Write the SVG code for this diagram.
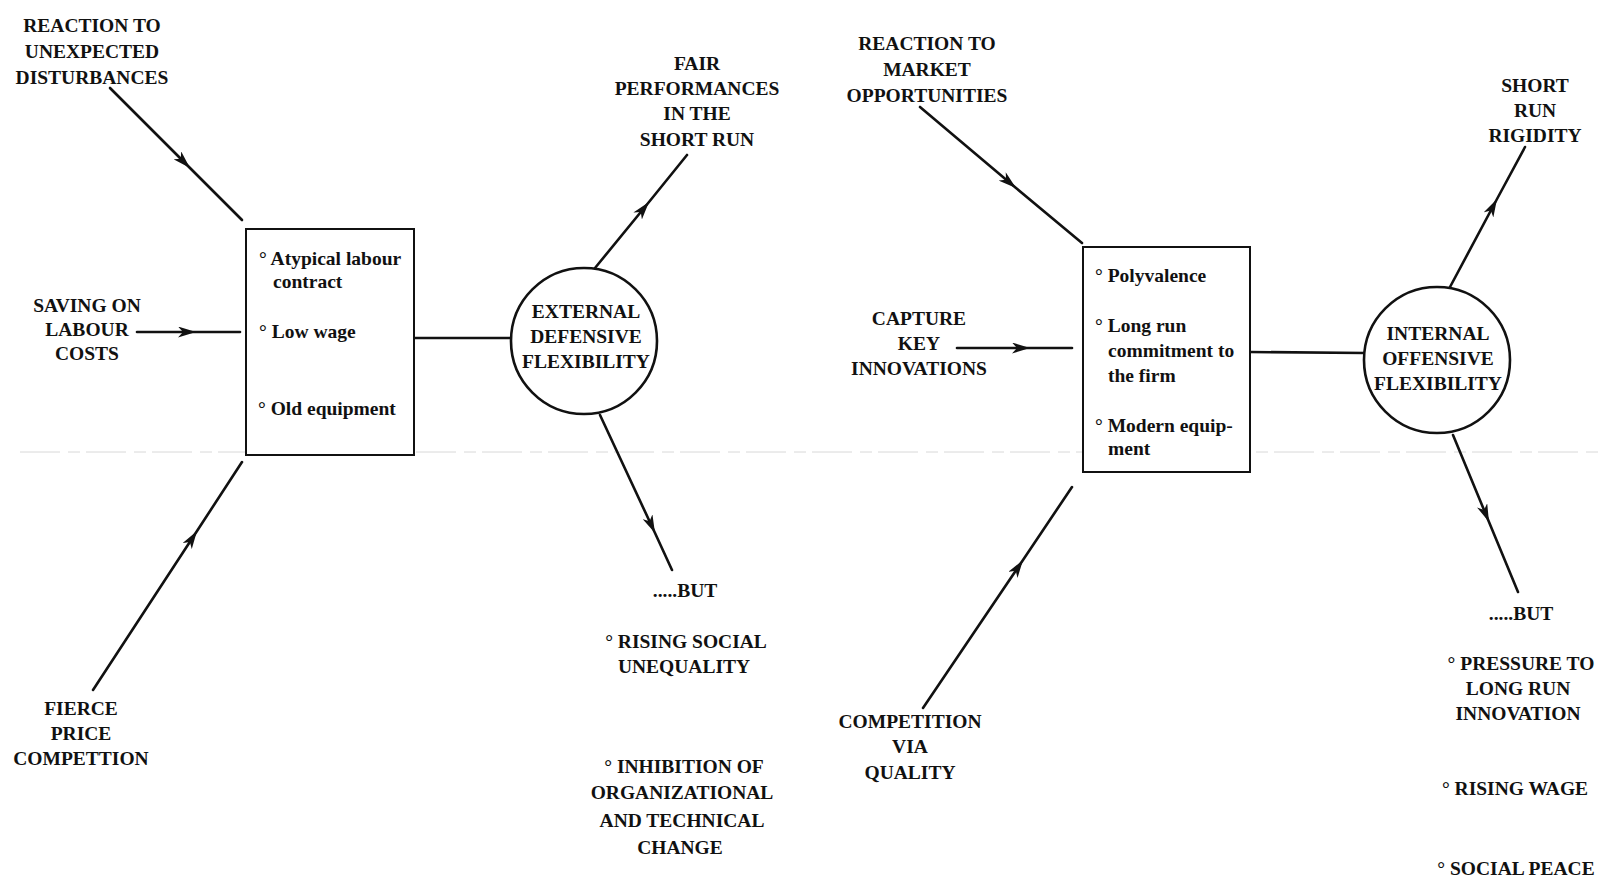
<svg xmlns="http://www.w3.org/2000/svg" width="1600" height="880" viewBox="0 0 1600 880">
<style>
  text { font-family: "Liberation Serif", "Times New Roman", serif; font-weight: bold; font-size: 19.5px; fill: #111; }
  .c { text-anchor: middle; }
  .box { fill: #fff; stroke: #111; stroke-width: 2; }
  .circ { fill: #fff; stroke: #111; stroke-width: 2.6; }
  .ln { fill: none; stroke: #111; stroke-width: 2.6; stroke-linecap: round; }
  .arr { fill: none; stroke: #111; stroke-width: 2.6; stroke-linecap: round; marker-mid: url(#ah); }
  .scan { stroke: #d8d8d8; stroke-width: 1; stroke-dasharray: 40 8 12 6; }
</style>
<defs>
  <marker id="ah" viewBox="0 0 18 11" refX="18" refY="5.5" markerWidth="18" markerHeight="11" markerUnits="userSpaceOnUse" orient="auto">
    <path d="M0,0 L18,5.5 L0,11 L5,5.5 z" fill="#111"/>
  </marker>
</defs>
<rect width="1600" height="880" fill="#fff"/>
<line class="scan" x1="20" y1="452" x2="1600" y2="452"/>

<g id="connectors">
  <path class="arr" d="M110,88 L190,168 L242,220"/>
  <path class="arr" d="M137,332 L196,332 L240,332"/>
  <path class="arr" d="M93,690 L197,531 L242,462"/>
  <path class="ln" d="M414,338 L512,338"/>
  <path class="arr" d="M595,268 L649,202 L687,155"/>
  <path class="arr" d="M600,415 L655,533 L672,570"/>
  <path class="arr" d="M920,107 L1016,188 L1082,243"/>
  <path class="arr" d="M957,348 L1030,348 L1072,348"/>
  <path class="arr" d="M923,708 L1023,560 L1072,487"/>
  <path class="ln" d="M1250,352 L1365,353"/>
  <path class="arr" d="M1450,287 L1497,199 L1525,147"/>
  <path class="arr" d="M1453,435 L1489,522 L1518,592"/>
</g>

<g id="label-unexpected">
  <text class="c" x="92" y="32">REACTION TO</text>
  <text class="c" x="92" y="58">UNEXPECTED</text>
  <text class="c" x="92" y="84">DISTURBANCES</text>
</g>
<g id="label-saving">
  <text class="c" x="87" y="312">SAVING ON</text>
  <text class="c" x="87" y="336">LABOUR</text>
  <text class="c" x="87" y="360">COSTS</text>
</g>
<g id="label-fierce">
  <text class="c" x="81" y="715">FIERCE</text>
  <text class="c" x="81" y="740">PRICE</text>
  <text class="c" x="81" y="765">COMPETTION</text>
</g>

<g id="box-external">
  <rect class="box" x="246" y="229" width="168" height="226"/>
  <text x="259" y="265">° Atypical labour</text>
  <text x="273" y="288">contract</text>
  <text x="259" y="338">° Low wage</text>
  <text x="258" y="415">° Old equipment</text>
</g>

<g id="circle-external">
  <circle class="circ" cx="584" cy="341" r="73"/>
  <text class="c" x="586" y="318">EXTERNAL</text>
  <text class="c" x="586" y="343">DEFENSIVE</text>
  <text class="c" x="586" y="368">FLEXIBILITY</text>
</g>

<g id="label-fair">
  <text class="c" x="697" y="70">FAIR</text>
  <text class="c" x="697" y="95">PERFORMANCES</text>
  <text class="c" x="697" y="120">IN THE</text>
  <text class="c" x="697" y="146">SHORT RUN</text>
</g>

<g id="label-but-external">
  <text class="c" x="685" y="597">.....BUT</text>
  <text class="c" x="686" y="648">° RISING SOCIAL</text>
  <text class="c" x="684" y="673">UNEQUALITY</text>
  <text class="c" x="684" y="773">° INHIBITION OF</text>
  <text class="c" x="682" y="799">ORGANIZATIONAL</text>
  <text class="c" x="682" y="827">AND TECHNICAL</text>
  <text class="c" x="680" y="854">CHANGE</text>
</g>

<g id="label-market">
  <text class="c" x="927" y="50">REACTION TO</text>
  <text class="c" x="927" y="76">MARKET</text>
  <text class="c" x="927" y="102">OPPORTUNITIES</text>
</g>
<g id="label-capture">
  <text class="c" x="919" y="325">CAPTURE</text>
  <text class="c" x="919" y="350">KEY</text>
  <text class="c" x="919" y="375">INNOVATIONS</text>
</g>
<g id="label-quality">
  <text class="c" x="910" y="728">COMPETITION</text>
  <text class="c" x="910" y="753">VIA</text>
  <text class="c" x="910" y="779">QUALITY</text>
</g>

<g id="box-internal">
  <rect class="box" x="1083" y="247" width="167" height="225"/>
  <text x="1095" y="282">° Polyvalence</text>
  <text x="1095" y="332">° Long run</text>
  <text x="1108" y="357">commitment to</text>
  <text x="1108" y="382">the firm</text>
  <text x="1095" y="432">° Modern equip-</text>
  <text x="1108" y="455">ment</text>
</g>

<g id="circle-internal">
  <circle class="circ" cx="1437" cy="360" r="73"/>
  <text class="c" x="1438" y="340">INTERNAL</text>
  <text class="c" x="1438" y="365">OFFENSIVE</text>
  <text class="c" x="1438" y="390">FLEXIBILITY</text>
</g>

<g id="label-rigidity">
  <text class="c" x="1535" y="92">SHORT</text>
  <text class="c" x="1535" y="117">RUN</text>
  <text class="c" x="1535" y="142">RIGIDITY</text>
</g>

<g id="label-but-internal">
  <text class="c" x="1521" y="620">.....BUT</text>
  <text class="c" x="1521" y="670">° PRESSURE TO</text>
  <text class="c" x="1518" y="695">LONG RUN</text>
  <text class="c" x="1518" y="720">INNOVATION</text>
  <text class="c" x="1515" y="795">° RISING WAGE</text>
  <text class="c" x="1516" y="875">° SOCIAL PEACE</text>
</g>
</svg>
